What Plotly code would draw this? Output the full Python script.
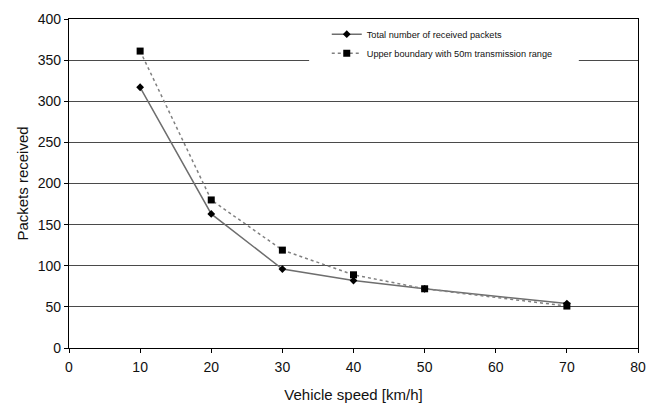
import plotly.graph_objects as go

speed = [10, 20, 30, 40, 50, 70]
received = [317, 163, 96, 82, 72, 54]
upper = [361, 180, 119, 89, 72, 51]
x_ticks = [0, 10, 20, 30, 40, 50, 60, 70, 80]
y_ticks = [0, 50, 100, 150, 200, 250, 300, 350, 400]

fig = go.Figure()
fig.add_trace(go.Scatter(
    x=speed, y=received, mode="lines+markers",
    name="Total number of received packets",
    line=dict(color="#6e6e6e", width=1.5),
    marker=dict(symbol="diamond", size=6, color="black"),
))
fig.add_trace(go.Scatter(
    x=speed, y=upper, mode="lines+markers",
    name="Upper boundary with 50m transmission range",
    line=dict(color="#808080", width=1.5, dash="dot"),
    marker=dict(symbol="square", size=7, color="black"),
))

font = "Liberation Sans, Arial, sans-serif"
fig.update_layout(
    width=646, height=403,
    margin=dict(l=69, r=8, t=19, b=55, autoexpand=False),
    paper_bgcolor="white", plot_bgcolor="white",
    font=dict(family=font, color="#111", size=14),
    showlegend=True,
    legend=dict(
        x=0.453, y=0.998, xanchor="left", yanchor="top",
        bgcolor="white", borderwidth=0,
        font=dict(size=9.2, family=font, color="#111"),
        itemwidth=30, tracegroupgap=0,
    ),
    shapes=[dict(
        type="rect", xref="paper", yref="paper",
        x0=0.422, x1=0.896, y0=0.845, y1=0.906,
        fillcolor="white", line=dict(width=0), layer="above",
    )],
    xaxis=dict(
        range=[0, 80], tickvals=x_ticks, ticktext=[str(v) for v in x_ticks],
        showgrid=False, zeroline=False, automargin=False,
        showline=True, linecolor="black", linewidth=1.2, mirror=True,
        ticks="outside", ticklen=4, tickcolor="black", ticklabelstandoff=2,
        ticklabeloverflow="allow",
        title=dict(text="Vehicle speed [km/h]", font=dict(size=15), standoff=16),
        tickfont=dict(size=14),
    ),
    yaxis=dict(
        range=[0, 400], tickvals=y_ticks, ticktext=[str(v) for v in y_ticks],
        showgrid=True, gridcolor="#4a4a4a", gridwidth=1.2, zeroline=False,
        automargin=False,
        showline=True, linecolor="black", linewidth=1.2, mirror=True,
        ticks="outside", ticklen=4, tickcolor="black",
        title=dict(text="Packets received", font=dict(size=15), standoff=5),
        tickfont=dict(size=14),
    ),
)

fig.write_html(
    "out.html",
    config={"displayModeBar": False},
    post_script="document.body.style.margin='0';document.body.style.overflow='hidden';",
)
